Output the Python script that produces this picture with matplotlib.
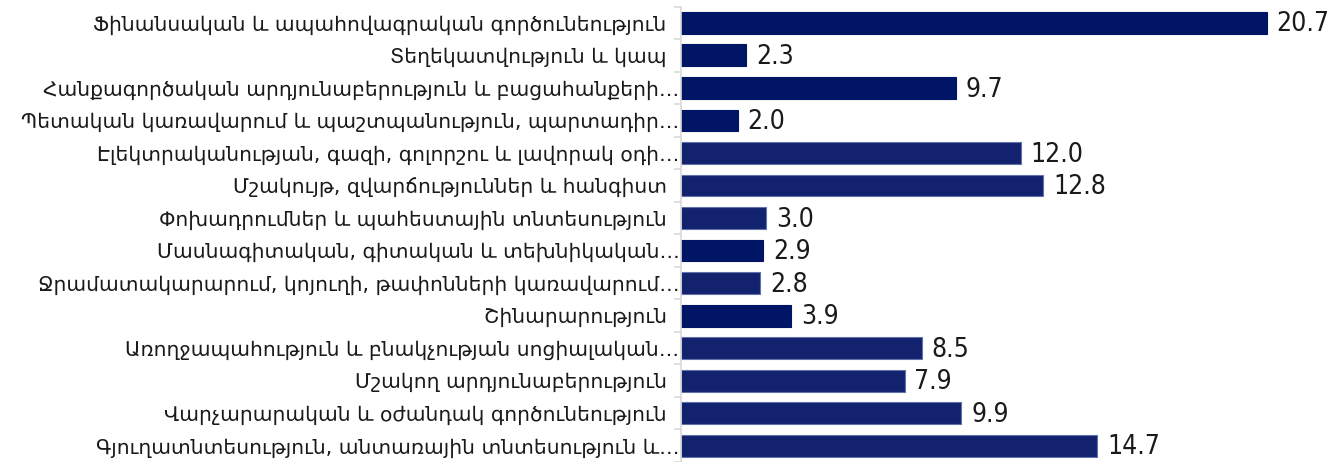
import matplotlib.pyplot as plt
import numpy as np

categories = [
    "Ֆինանսական և ապահովագրական գործունեություն\u00a0\u00a0",
    "Տեղեկատվություն և կապ\u00a0\u00a0",
    "Հանքագործական արդյունաբերություն և բացահանքերի…",
    "Պետական կառավարում և պաշտպանություն, պարտադիր…",
    "Էլեկտրականության, գազի, գոլորշու և լավորակ օդի…",
    "Մշակույթ, զվարճություններ և հանգիստ\u00a0\u00a0",
    "Փոխադրումներ և պահեստային տնտեսություն\u00a0\u00a0",
    "Մասնագիտական, գիտական և տեխնիկական…",
    "Ջրամատակարարում, կոյուղի, թափոնների կառավարում…",
    "Շինարարություն\u00a0\u00a0",
    "Առողջապահություն և բնակչության սոցիալական…",
    "Մշակող արդյունաբերություն\u00a0\u00a0",
    "Վարչարարական և օժանդակ գործունեություն\u00a0\u00a0",
    "Գյուղատնտեսություն, անտառային տնտեսություն և…",
]
values = [20.7, 2.3, 9.7, 2.0, 12.0, 12.8, 3.0, 2.9, 2.8, 3.9, 8.5, 7.9, 9.9, 14.7]
dark_rows = [0, 1, 2, 3, 7, 9]

fig = plt.figure(figsize=(13.34, 4.62), dpi=100)
ax = fig.add_axes([681 / 1334, 0.0, 1 - 681 / 1334, 1 - 6.6 / 462])

y = np.arange(len(values))
colors = ["#001566" if i in dark_rows else "#13226f" for i in y]
edges = ["#001566" if i in dark_rows else "#6272aa" for i in y]
bars = ax.barh(y, values, height=0.67, color=colors, edgecolor=edges, linewidth=0.8)

for b, v in zip(bars, values):
    ax.text(b.get_width() + 0.35, b.get_y() + b.get_height() / 2 + 0.05, f"{v:.1f}",
            va="center", ha="left", fontsize=19, family="DejaVu Sans",
            fontstretch="condensed", color="#1a1a1a")

ax.set_xlim(0, (1334 - 681) / 28.3)
ax.set_ylim(13.43, -0.5)
ax.set_yticks(y)
ax.set_yticklabels(categories, fontsize=14.6, color="#1a1a1a", family="DejaVu Sans")
ax.tick_params(axis="y", which="major", length=0, pad=1)
ax.set_yticks(np.arange(len(values) + 1) - 0.5, minor=True)
ax.tick_params(axis="y", which="minor", length=5, width=1.2, color="#d9d9d9")
ax.set_xticks([])

for s in ["top", "right", "bottom"]:
    ax.spines[s].set_visible(False)
ax.spines["left"].set_color("#d9d9d9")
ax.spines["left"].set_linewidth(1.2)

fig.savefig("out.png", dpi=100)
